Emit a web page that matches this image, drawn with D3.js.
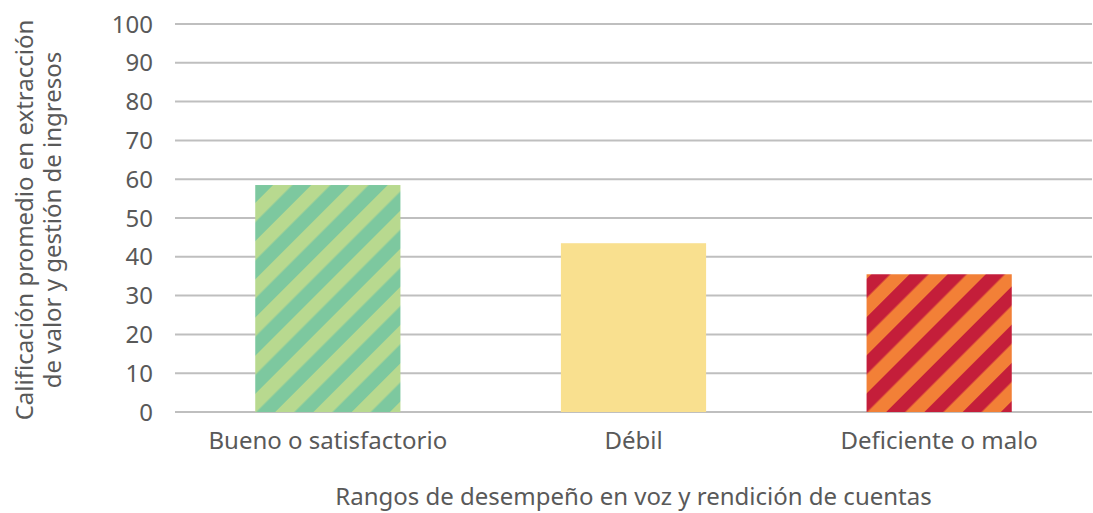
<!DOCTYPE html>
<html><head><meta charset="utf-8">
<script src="https://cdn.jsdelivr.net/npm/d3@7"></script>
<style>body{margin:0;background:#fff;} text{font-family:"Noto Sans",sans-serif;fill:#595959;}</style>
</head><body><svg id="c" width="1093" height="513"></svg>
<script>
const categories = ["Bueno o satisfactorio", "Débil", "Deficiente o malo"];
const values = [58.5, 43.5, 35.5];
const yTicks = [0,10,20,30,40,50,60,70,80,90,100];
const xTitle = "Rangos de desempeño en voz y rendición de cuentas";
const yTitle = ["Calificación promedio en extracción", "de valor y gestión de ingresos"];

const svg = d3.select("#c");
const m = {l:175, r:1, t:24, b:101};
const W = 1093, H = 513;
const x = d3.scaleBand().domain(categories).range([m.l, W-m.r]).paddingInner(0.525).paddingOuter(0.2625);
const y = d3.scaleLinear().domain([0,100]).range([H-m.b, m.t]);

const defs = svg.append("defs");
function stripe(id, c1, c2){
  const p = defs.append("pattern").attr("id",id).attr("patternUnits","userSpaceOnUse")
    .attr("width",27).attr("height",27).attr("patternTransform","rotate(45)");
  p.append("rect").attr("width",27).attr("height",27).attr("fill",c1);
  p.append("rect").attr("width",13.5).attr("height",27).attr("fill",c2);
}
stripe("pg","#7dc89f","#b8d98f");
stripe("pr","#f28037","#c41e3a");
const fills = ["url(#pg)","#f9e08f","url(#pr)"];

svg.append("g").selectAll("line").data(yTicks).join("line")
  .attr("x1",m.l).attr("x2",W-m.r).attr("y1",d=>y(d)).attr("y2",d=>y(d))
  .attr("stroke","#bfbfbf").attr("stroke-width",2);

svg.append("g").selectAll("rect").data(values).join("rect")
  .attr("x",(d,i)=>x(categories[i])).attr("width",x.bandwidth())
  .attr("y",d=>y(d)).attr("height",d=>y(0)-y(d)).attr("fill",(d,i)=>fills[i]);

svg.append("g").selectAll("text").data(yTicks).join("text")
  .attr("x",153).attr("y",d=>y(d)).attr("dy","0.36em").attr("text-anchor","end")
  .style("font-size","24px").text(d=>d);

svg.append("g").selectAll("text").data(categories).join("text")
  .attr("x",d=>x(d)+x.bandwidth()/2).attr("y",449).attr("text-anchor","middle")
  .style("font-size","24px").text(d=>d);

svg.append("text").attr("x",(m.l+W-m.r)/2).attr("y",505).attr("text-anchor","middle")
  .style("font-size","24px").text(xTitle);

const yt = svg.append("text").attr("transform","translate(0,220) rotate(-90)").attr("text-anchor","middle")
  .style("font-size","24px");
yt.append("tspan").attr("x",0).attr("y",33).text(yTitle[0]);
yt.append("tspan").attr("x",0).attr("y",61).text(yTitle[1]);
</script></body></html>
